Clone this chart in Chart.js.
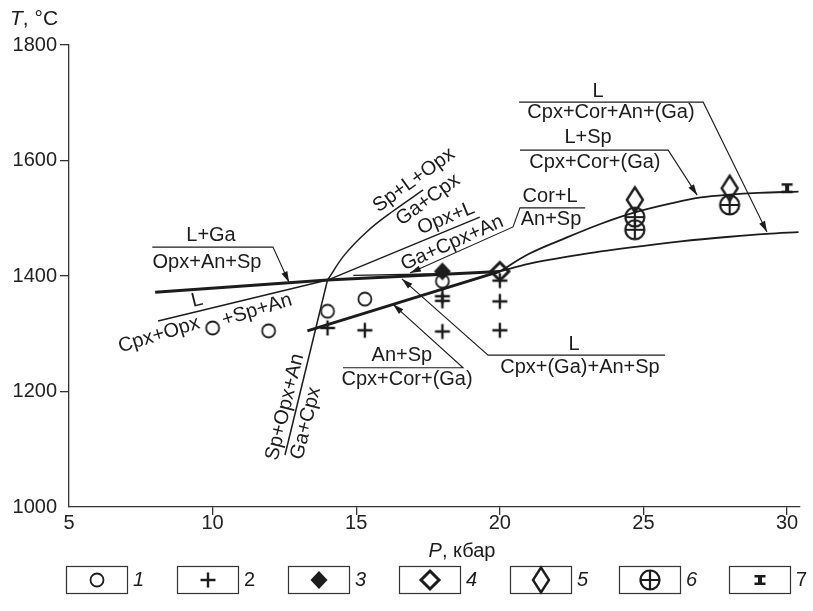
<!DOCTYPE html>
<html><head><meta charset="utf-8">
<script src="https://cdn.jsdelivr.net/npm/chart.js@4/dist/chart.umd.min.js"></script>
<style>html,body{margin:0;padding:0;background:#fff}#wrap{width:813px;height:611px}</style>
</head><body><div id="wrap"><canvas id="c" width="813" height="611"></canvas></div>
<script>
// ================= DATA =================
const xTicks = [5, 10, 15, 20, 25, 30];
const yTicks = [1000, 1200, 1400, 1600, 1800];

// experimental points: P (kbar), T (°C)
const s1P = [10, 11.95, 14, 15.3, 18];           const s1T = [1310, 1305, 1339, 1360, 1391];
const s2P = [14, 15.3, 18, 18, 18, 20, 20, 20];  const s2T = [1310, 1306, 1365, 1357, 1304, 1392, 1356, 1306];
const s3P = [18];                                const s3T = [1408];
const s4P = [20];                                const s4T = [1408];
const s5P = [24.7, 28];                          const s5T = [1532, 1552];
const s6P = [24.7, 24.7, 28];                    const s6T = [1502, 1480, 1523];
const s7P = [30];                                const s7T = [1552];

// phase boundaries
const bLGaP = [8, 14, 20];         const bLGaT = [1372, 1393, 1408];   // thick: L+Ga / Opx+An+Sp
const bLCpxP = [8.1, 14];          const bLCpxT = [1322, 1393];        // thin: L / Cpx+Opx+Sp+An
const bAnSpP = [13.3, 20];         const bAnSpT = [1305, 1408];        // thick: An+Sp / Cpx+Cor+(Ga)
const bSteepP = [12.52, 14];       const bSteepT = [1090, 1393];       // Sp+Opx+An / Ga+Cpx
const bSpLP = [14, 14.6, 15.4, 16.3, 17.33]; const bSpLT = [1393, 1437, 1478, 1513, 1549]; // Sp+L+Opx / Ga+Cpx
const bOpxLP = [14, 19.3];         const bOpxLT = [1393, 1502];        // Opx+L / Ga+Cpx+An
const bCorLP = [14.9, 18];         const bCorLT = [1401, 1404];        // Cor+L / An+Sp
const bLSpP = [20, 21, 22.3, 23.5, 24.7, 26, 27, 28, 29, 30.4];
const bLSpT = [1408, 1438, 1466, 1490, 1510, 1526, 1536, 1541, 1544, 1546];
const bLP = [20, 21, 22.8, 24.5, 26.3, 28, 29.3, 30.4];
const bLT = [1408, 1421, 1437, 1449, 1460, 1468, 1473, 1476];

// label leaders (bar + pointer, arrow at last point)
const lLGaP = [7.9, 12.1, 12.66];            const lLGaT = [1450, 1450, 1389];
const lCorLP = [22.97, 20.7, 20.46, 16.87];  const lCorLT = [1518, 1518, 1485, 1405];
const lTopLP = [20.67, 27.08, 29.3];         const lTopLT = [1701, 1701, 1476];
const lLSpP = [20.7, 25.86, 26.87];          const lLSpT = [1618, 1618, 1540];
const lAnSpP = [14.54, 18.72, 16.28];        const lAnSpT = [1241, 1241, 1351];
const lLBrP = [25.75, 19.59, 16.59];         const lLBrT = [1263, 1263, 1395];

// ================= STYLE =================
const FONT = "'Liberation Sans', Arial, Helvetica, sans-serif";
const INK = '#1c1c1c';

const drawMk = {
  circle(g,x,y){g.lineWidth=1.8;g.beginPath();g.arc(x,y,6.5,0,2*Math.PI);g.stroke();},
  plus(g,x,y){g.lineWidth=2.4;g.beginPath();g.moveTo(x-7.5,y);g.lineTo(x+7.5,y);g.moveTo(x,y-7.5);g.lineTo(x,y+7.5);g.stroke();},
  fdiamond(g,x,y){g.beginPath();g.moveTo(x,y-9);g.lineTo(x+8.5,y);g.lineTo(x,y+9);g.lineTo(x-8.5,y);g.closePath();g.fill();},
  odiamond(g,x,y){g.lineWidth=3;g.lineJoin='miter';g.beginPath();g.moveTo(x,y-9);g.lineTo(x+9,y);g.lineTo(x,y+9);g.lineTo(x-9,y);g.closePath();g.stroke();},
  tdiamond(g,x,y){g.lineWidth=2.4;g.lineJoin='miter';g.beginPath();g.moveTo(x,y-12.5);g.lineTo(x+8,y);g.lineTo(x,y+12.5);g.lineTo(x-8,y);g.closePath();g.stroke();},
  ocross(g,x,y){g.lineWidth=2.2;g.beginPath();g.arc(x,y,9.5,0,2*Math.PI);g.moveTo(x-9.5,y);g.lineTo(x+9.5,y);g.moveTo(x,y-9.5);g.lineTo(x,y+9.5);g.stroke();},
  ibeam(g,x,y){g.fillRect(x-5.5,y-5,11,2.5);g.fillRect(x-5.5,y+2.5,11,2.5);g.fillRect(x-2,y-5,4,10);}
};
function mkCanvas(name){
  const c=document.createElement('canvas');c.width=32;c.height=34;
  const g=c.getContext('2d');g.strokeStyle=INK;g.fillStyle=INK;drawMk[name](g,16,17);return c;
}
const pts=(P,T)=>P.map((p,i)=>({x:p,y:T[i]}));
const ptDs=(P,T,name)=>({data:pts(P,T),pointStyle:mkCanvas(name),pointRadius:10,showLine:false,clip:false});
const lnDs=(P,T,w,extra)=>Object.assign({data:pts(P,T),showLine:true,borderColor:INK,borderWidth:w,pointRadius:0,tension:0,fill:false,clip:false},extra||{});

const datasets=[
  ptDs(s7P,s7T,'ibeam'),
  ptDs(s5P,s5T,'tdiamond'),
  ptDs(s6P,s6T,'ocross'),
  ptDs(s4P,s4T,'odiamond'),
  ptDs(s3P,s3T,'fdiamond'),
  ptDs(s2P,s2T,'plus'),
  ptDs(s1P,s1T,'circle'),
  lnDs(bLGaP,bLGaT,3),
  lnDs(bAnSpP,bAnSpT,3),
  lnDs(bLCpxP,bLCpxT,1.4),
  lnDs(bSteepP,bSteepT,1.5),
  lnDs(bSpLP,bSpLT,1.5,{tension:0.4}),
  lnDs(bOpxLP,bOpxLT,1.4),
  lnDs(bCorLP,bCorLT,1.4),
  lnDs(bLSpP,bLSpT,1.8,{cubicInterpolationMode:'monotone'}),
  lnDs(bLP,bLT,1.8,{cubicInterpolationMode:'monotone'}),
  lnDs(lLGaP,lLGaT,1.1,{arrow:true}),
  lnDs(lCorLP,lCorLT,1.1,{arrow:true}),
  lnDs(lTopLP,lTopLT,1.1,{arrow:true}),
  lnDs(lLSpP,lLSpT,1.1,{arrow:true}),
  lnDs(lAnSpP,lAnSpT,1.1,{arrow:true}),
  lnDs(lLBrP,lLBrT,1.1,{arrow:true})
];

// phase-field labels (text, anchor P, anchor T, rotation deg)
const phaseLabels=[
  ['L+Ga',9.944,1471,0],['Opx+An+Sp',9.805,1424,0],
  ['L',9.457,1358,-14],['Cpx+Opx',8.134,1298,-17],['+Sp+An',11.546,1341,-17],
  ['Sp+L+Opx',17.01,1566,-36],['Ga+Cpx',17.5,1532,-36],
  ['Opx+L',18.13,1500,-22],['Ga+Cpx+An',18.34,1457,-24],
  ['Cor+L',21.75,1537,0],['An+Sp',21.78,1497,0],
  ['L',23.42,1719,0],['Cpx+Cor+An+(Ga)',23.87,1684,0],
  ['L+Sp',23.07,1639,0],['Cpx+Cor+(Ga)',23.31,1597,0],
  ['An+Sp',16.59,1263,0],['Cpx+Cor+(Ga)',16.77,1220,0],
  ['L',22.58,1282,0],['Cpx+(Ga)+An+Sp',22.79,1242,0],
  ['Sp+Opx+An',12.52,1173,-76],['Ga+Cpx',13.25,1145,-76]
];
const legendItems=[['circle','1',true],['plus','2',false],['fdiamond','3',true],['odiamond','4',true],['tdiamond','5',true],['ocross','6',true],['ibeam','7',false]];
const legendLefts=[66,177,288,399,510,619,729];

const annot={
  id:'annot',
  afterDatasetsDraw(chart){
    const ctx=chart.ctx,xs=chart.scales.x,ys=chart.scales.y;
    ctx.save();
    ctx.fillStyle=INK;ctx.strokeStyle=INK;
    chart.data.datasets.forEach(ds=>{
      if(!ds.arrow)return;
      const n=ds.data.length,a=ds.data[n-2],b=ds.data[n-1];
      const x1=xs.getPixelForValue(a.x),y1=ys.getPixelForValue(a.y),x2=xs.getPixelForValue(b.x),y2=ys.getPixelForValue(b.y);
      const ang=Math.atan2(y2-y1,x2-x1),L=11,W=3.2;
      ctx.beginPath();ctx.moveTo(x2,y2);
      ctx.lineTo(x2-L*Math.cos(ang)+W*Math.sin(ang),y2-L*Math.sin(ang)-W*Math.cos(ang));
      ctx.lineTo(x2-L*Math.cos(ang)-W*Math.sin(ang),y2-L*Math.sin(ang)+W*Math.cos(ang));
      ctx.closePath();ctx.fill();
    });
    ctx.textAlign='center';ctx.textBaseline='middle';ctx.font='20px '+FONT;
    phaseLabels.forEach(l=>{
      ctx.save();ctx.translate(xs.getPixelForValue(l[1]),ys.getPixelForValue(l[2]));
      ctx.rotate(l[3]*Math.PI/180);ctx.fillText(l[0],0,0);ctx.restore();
    });
    ctx.textAlign='left';
    ctx.font='italic 21px '+FONT;ctx.fillText('T',10,19);
    let w=ctx.measureText('T').width;
    ctx.font='21px '+FONT;ctx.fillText(', °C',10+w,19);
    ctx.font='italic 20px '+FONT;const wP=ctx.measureText('P').width;
    ctx.font='20px '+FONT;const wR=ctx.measureText(', кбар').width;
    const sx=462-(wP+wR)/2;
    ctx.font='italic 20px '+FONT;ctx.fillText('P',sx,551);
    ctx.font='20px '+FONT;ctx.fillText(', кбар',sx+wP,551);
    const top=566,h=27,bw=61;
    legendItems.forEach((it,i)=>{
      const lx=legendLefts[i];
      ctx.lineWidth=1.2;ctx.strokeStyle='#333';ctx.strokeRect(lx+0.5,top+0.5,bw,h);
      ctx.strokeStyle=INK;ctx.fillStyle=INK;
      drawMk[it[0]](ctx,lx+bw/2+0.5,top+h/2+0.5);
      ctx.font=(it[2]?'italic ':'')+'20px '+FONT;ctx.textAlign='left';
      ctx.fillText(it[1],lx+bw+6,top+h/2+1);
    });
    ctx.restore();
  }
};

const axisCommon=(ticksArr,hide)=>({
  type:'linear',
  afterBuildTicks:s=>{s.ticks=ticksArr.map(v=>({value:v}));},
  grid:{display:true,drawOnChartArea:false,drawTicks:true,color:c=>(c.tick&&c.tick.value===hide)?'rgba(0,0,0,0)':'#333',lineWidth:1.3},
  border:{display:true,color:'#333',width:1.3},
  ticks:{font:{family:FONT,size:20},color:'#222',maxRotation:0,autoSkip:false,callback:v=>String(v)}
});

const xAxis=axisCommon(xTicks,5);
Object.assign(xAxis,{min:5,max:30.45,afterFit:s=>{s.height=104;}});
xAxis.grid.tickLength=8;xAxis.ticks.padding=-4;
const yAxis=axisCommon(yTicks,1000);
Object.assign(yAxis,{min:1000,max:1800,afterFit:s=>{s.width=69;}});
yAxis.grid.tickLength=9;yAxis.ticks.padding=3;

new Chart(document.getElementById('c'),{
  type:'scatter',
  data:{datasets},
  options:{
    responsive:false,animation:false,devicePixelRatio:1,
    layout:{padding:{left:0,right:13,top:45,bottom:0}},
    plugins:{legend:{display:false},tooltip:{enabled:false}},
    scales:{x:xAxis,y:yAxis}
  },
  plugins:[annot]
});
</script></body></html>
